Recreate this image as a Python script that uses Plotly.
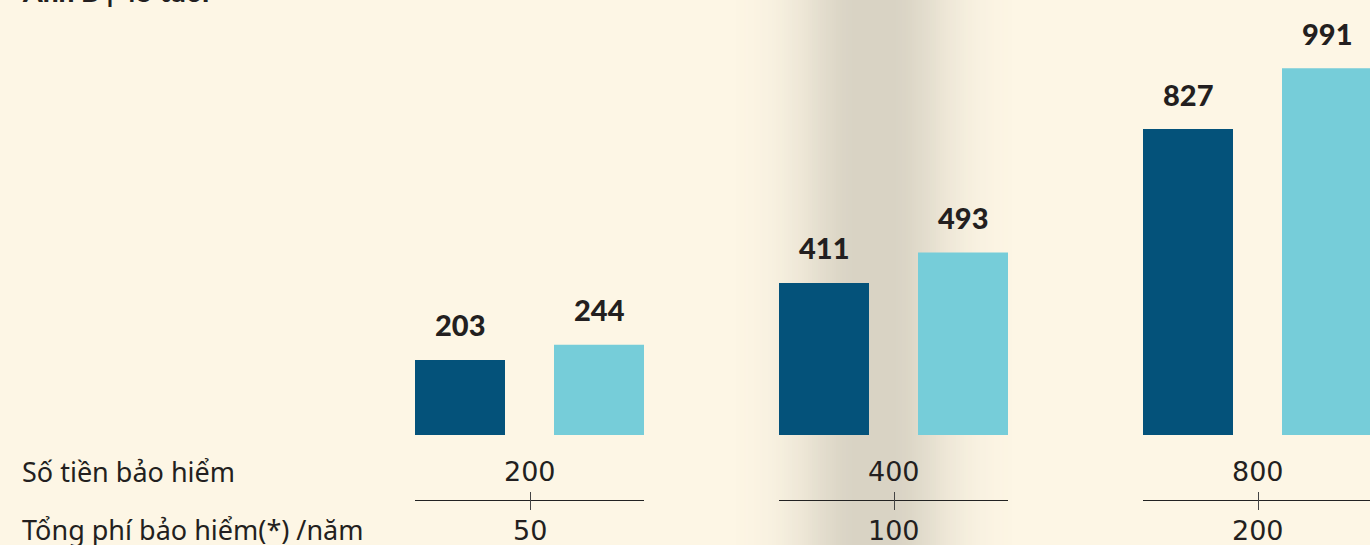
import math
import plotly.graph_objects as go

# ---- data ----
sum_insured = ["200", "400", "800"]          # Số tiền bảo hiểm
annual_premium = ["50", "100", "200"]        # Tổng phí bảo hiểm(*) /năm
series_dark = [203, 411, 827]
series_light = [244, 493, 991]
row_labels = ["Số tiền bảo hiểm", "Tổng phí bảo hiểm(*) /năm"]
title_text = "Anh B | 45 tuổi"

# ---- style ----
W, H = 1370, 545
PX = 364.0                 # pixels per group
BAR_W = 90 / PX
OFF_DARK = -115 / PX
OFF_LIGHT = 24 / PX
PLOT_H = 435
PX_PER_UNIT = 0.37
BG = "#FDF6E5"
DARK = "#04527A"
LIGHT = "#76CDD9"
TXT = "#231F20"
HALF = 0.5 / PX

xs = list(range(len(sum_insured)))

fig = go.Figure()
fig.add_trace(go.Bar(x=xs, y=series_dark, width=BAR_W, offset=OFF_DARK,
                     marker=dict(color=DARK, line=dict(width=0)), showlegend=False,
                     hoverinfo="y"))
fig.add_trace(go.Bar(x=xs, y=series_light, width=BAR_W, offset=OFF_LIGHT,
                     marker=dict(color=LIGHT, line=dict(width=0)), showlegend=False,
                     hoverinfo="y"))

ann = []
shapes = []

# value labels
for i, (a, b) in enumerate(zip(series_dark, series_light)):
    for off, v in ((OFF_DARK, a), (OFF_LIGHT, b)):
        ann.append(dict(x=i + off + BAR_W / 2, y=v, xref="x", yref="y",
                        text=str(v), showarrow=False, yanchor="middle",
                        yshift=35, font=dict(family="Lato", size=29, color=TXT, weight=900)))

# bottom rows
for i, (s, p) in enumerate(zip(sum_insured, annual_premium)):
    ann.append(dict(x=i, y=0, xref="x", yref="paper", text=s, showarrow=False,
                    yanchor="middle", yshift=-36,
                    font=dict(family="DejaVu Sans", size=27, color=TXT)))
    ann.append(dict(x=i, y=0, xref="x", yref="paper", text=p, showarrow=False,
                    yanchor="middle", yshift=-95,
                    font=dict(family="DejaVu Sans", size=27, color=TXT)))
    shapes.append(dict(type="line", xref="x", yref="paper", ysizemode="pixel", yanchor=0,
                       x0=i + OFF_DARK, x1=i + OFF_LIGHT + BAR_W, y0=-65.5, y1=-65.5,
                       line=dict(color="#222222", width=1), layer="above"))
    shapes.append(dict(type="line", xref="x", yref="paper", ysizemode="pixel", yanchor=0,
                       x0=i + HALF, x1=i + HALF, y0=-57, y1=-75,
                       line=dict(color="#444444", width=1), layer="above"))

for k, lab in enumerate(row_labels):
    ann.append(dict(x=20 / W, y=0, xref="paper", yref="paper", text=lab, showarrow=False,
                    xanchor="left", yanchor="middle", yshift=-36 - 58 * k,
                    font=dict(family="Noto Sans", size=27, color=TXT)))

ann.append(dict(x=20 / W, y=1, xref="paper", yref="paper", text=title_text,
                showarrow=False, xanchor="left", yanchor="bottom", yshift=-10,
                font=dict(family="Lato", size=28, color=TXT, weight=900)))

# page-fold shading (decoration)
for x in range(700, 1080, 2):
    xc = x + 1.0
    if xc < 858:
        a = math.exp(-((xc - 858) / 62) ** 2)
    elif xc > 890:
        a = math.exp(-((xc - 890) / 62) ** 2)
    else:
        a = 1.0
    if a < 0.02:
        continue
    shapes.append(dict(type="rect", xref="paper", yref="paper",
                       x0=x / W, x1=(x + 2) / W, y0=-1, y1=2,
                       fillcolor="#D9D3C4", opacity=a, line=dict(width=0), layer="below"))

fig.update_layout(
    width=W, height=H, autosize=False,
    margin=dict(l=0, r=0, t=0, b=H - PLOT_H, pad=0),
    paper_bgcolor=BG, plot_bgcolor="rgba(0,0,0,0)",
    xaxis=dict(visible=False, range=[-530 / PX, (W - 530) / PX], fixedrange=True),
    yaxis=dict(visible=False, range=[0, PLOT_H / PX_PER_UNIT], fixedrange=True),
    barmode="overlay",
    annotations=ann, shapes=shapes,
)

fig.write_html("out.html", config={"displayModeBar": False},
               post_script="document.body.style.margin='0';document.body.style.overflow='hidden';")
